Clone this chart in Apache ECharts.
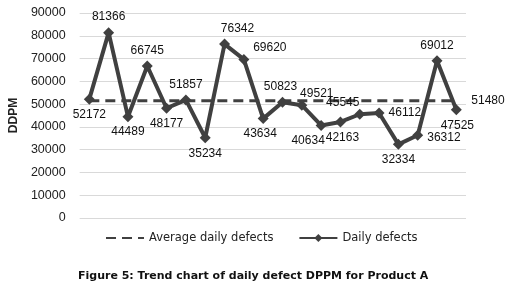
<!DOCTYPE html>
<html><head><meta charset="utf-8">
<script src="https://cdn.jsdelivr.net/npm/echarts@6/dist/echarts.min.js"></script>
<style>html,body{margin:0;padding:0;background:#fff}#c{width:527px;height:300px}</style>
</head><body><div id="c"></div>
<script>
const categories = ['1','2','3','4','5','6','7','8','9','10','11','12','13','14','15','16','17','18','19','20'];
const dailyDefects = [52172, 81366, 44489, 66745, 48177, 51857, 35234, 76342, 69620, 43634, 50823, 49521, 40634, 42163, 45545, 46112, 32334, 36312, 69012, 47525];
const averageDefects = [51480, 51480, 51480, 51480, 51480, 51480, 51480, 51480, 51480, 51480, 51480, 51480, 51480, 51480, 51480, 51480, 51480, 51480, 51480, 51480];
const yTicks = [0, 10000, 20000, 30000, 40000, 50000, 60000, 70000, 80000, 90000];

// label placement for each daily point (style, not data)
const labelPlace = [
  ['bottom',[0,0]],['top',[0,0]],['bottom',[0,0]],['top',[0,0]],['bottom',[0,0]],
  ['top',[0,0]],['bottom',[0,0]],['top',[13,0]],['top',[26,4]],['bottom',[-3,0]],
  ['top',[-2,0]],['top',[15,4]],['bottom',[-13,0]],['bottom',[2,0]],['top',[-17,4]],
  ['right',[0,0]],['bottom',[0,0]],['right',[0,2]],['top',[0,0]],['bottom',[1,0]]
];

const chart = echarts.init(document.getElementById('c'));
const FONT = 'Liberation Sans';
chart.setOption({
  animation: false,
  textStyle: { fontFamily: FONT },
  grid: { left: 75, right: 61, top: 13, bottom: 82, containLabel: false },
  xAxis: {
    type: 'category', data: categories, boundaryGap: true,
    axisLine: { show: false }, axisTick: { show: false }, axisLabel: { show: false },
    splitLine: { show: false }
  },
  yAxis: {
    type: 'value', min: yTicks[0], max: yTicks[yTicks.length - 1], interval: 10000,
    name: 'DDPM', nameLocation: 'middle', nameGap: 50, nameRotate: 90,
    nameTextStyle: { fontFamily: FONT, fontSize: 12, fontWeight: 'bold', color: '#222' },
    axisLine: { show: false }, axisTick: { show: false },
    axisLabel: { fontFamily: FONT, fontSize: 12.5, color: '#222', margin: 14, formatter: v => String(v) },
    splitLine: { lineStyle: { color: '#d9d9d9', width: 1 } }
  },
  legend: {
    top: 227, left: 100, itemGap: 25, itemWidth: 38, itemHeight: 10,
    textStyle: { fontFamily: 'DejaVu Sans', fontSize: 11.5, color: '#222' },
    data: [
      { name: 'Average daily defects', itemStyle: { opacity: 0 } },
      { name: 'Daily defects' }
    ]
  },
  graphic: [{
    type: 'text', left: 78, top: 271,
    style: { text: 'Figure 5: Trend chart of daily defect DPPM for Product A', fontFamily: 'DejaVu Sans', fontSize: 11, fontWeight: 'bold', fill: '#111' }
  }],
  series: [
    {
      name: 'Average daily defects', type: 'line', data: averageDefects,
      symbol: 'none', z: 3,
      lineStyle: { color: '#404040', width: 3, type: [10, 6] },
      itemStyle: { color: '#404040' },
      endLabel: { show: true, distance: 15, fontFamily: FONT, fontSize: 12, color: '#111' }
    },
    {
      name: 'Daily defects', type: 'line', data: dailyDefects.map((v, i) => ({
        value: v,
        label: { position: labelPlace[i][0], offset: labelPlace[i][1] }
      })),
      symbol: 'diamond', symbolSize: 11, z: 4,
      lineStyle: { color: '#404040', width: 4 },
      itemStyle: { color: '#404040' },
      label: { show: true, fontFamily: FONT, fontSize: 12, color: '#111', distance: 4 }
    }
  ]
});
</script></body></html>
